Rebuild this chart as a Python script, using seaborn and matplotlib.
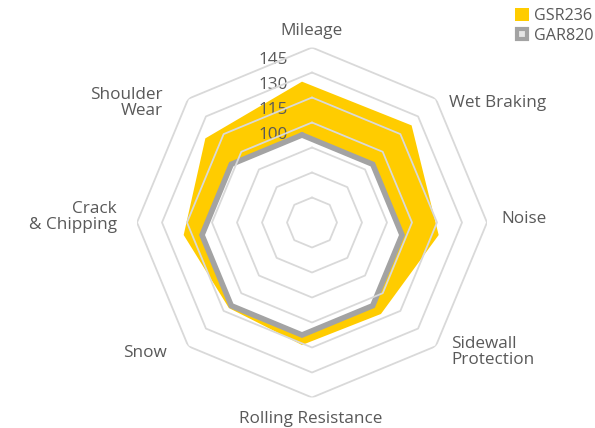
import numpy as np
import matplotlib
matplotlib.use("Agg")
import matplotlib.pyplot as plt
import matplotlib.transforms as mtransforms
from matplotlib.lines import Line2D
from matplotlib.patches import Patch
import seaborn as sns

# data
categories = ["Mileage", "Wet Braking", "Noise", "Sidewall\nProtection",
              "Rolling Resistance", "Snow", "Crack\n& Chipping", "Shoulder\nWear"]
gsr236 = [132, 133, 122, 107, 106, 102, 111, 122]
gar820 = [100, 100, 100, 100, 100, 100, 100, 100]
ring_values = [55, 70, 85, 100, 115, 130, 145]
tick_labels = [100, 115, 130, 145]
r_min, r_max = 40, 145

sns.set_theme(style="white")
plt.rcParams["font.family"] = ["Open Sans", "DejaVu Sans"]

W, H = 595, 428
fig = plt.figure(figsize=(W / 100, H / 100), dpi=100)
text_color = "#595959"
fs = 12.3


def box(cx, cy, rad):
    # axes rect in figure fractions from pixel centre + radius
    return [(cx - rad) / W, (H - cy - rad) / H, 2 * rad / W, 2 * rad / H]


angles = np.linspace(0, 2 * np.pi, len(categories), endpoint=False)
closed = np.append(angles, angles[0])

# data layer (drawn first, sits underneath the grid)
ax_d = fig.add_axes(box(302, 235, 175), projection="polar")
ax_g = fig.add_axes(box(312, 222.5, 175), projection="polar")
for ax in (ax_d, ax_g):
    ax.set_theta_offset(np.pi / 2)
    ax.set_theta_direction(-1)
    ax.set_ylim(r_min, r_max)
    ax.set_axis_off()

ax_d.fill(closed, gsr236 + gsr236[:1], color="#FFCC00", lw=0)
ax_d.fill(closed, gar820 + gar820[:1], color="white", lw=0)
ax_d.plot(closed, gar820 + gar820[:1], color="#A3A3A3", lw=4, solid_joinstyle="miter")

off = mtransforms.offset_copy(ax_d.transData, fig=fig, x=-14, y=0, units="dots")
for v in tick_labels:
    ax_d.text(0, v, str(v), transform=off, ha="right", va="center",
              fontsize=fs, color=text_color)

# grid layer on top
for v in ring_values:
    ax_g.plot(closed, [v] * len(closed), color="#D9D9D9", lw=1.3, zorder=3)

# category labels (pixel positions of the reference)
label_pos = [(312, 31, "center"), (449, 103, "left"), (501, 219, "left"),
             (451, 352, "left"), (311, 419, "center"), (167, 353, "right"),
             (117, 217, "right"), (163, 103, "right")]
for name, (x, y, ha) in zip(categories, label_pos):
    fig.text(x / W, 1 - y / H, name, ha=ha, va="center", ma=ha,
             fontsize=fs, color=text_color, linespacing=1.05)

handles = [Patch(facecolor="#FFCC00", edgecolor="none"),
           Line2D([], [], marker="s", ls="none", markersize=7, markeredgewidth=3,
                  markerfacecolor="#E6E6E6", markeredgecolor="#A3A3A3")]
fig.legend(handles, ["GSR236", "GAR820"], loc="upper left",
           bbox_to_anchor=(515 / W, 1 - 8 / H), frameon=False, fontsize=11.6,
           handlelength=0.85, handleheight=0.85, handletextpad=0.3,
           labelspacing=0.25, borderpad=0, borderaxespad=0, labelcolor=text_color)

fig.savefig("out.png", dpi=100)
